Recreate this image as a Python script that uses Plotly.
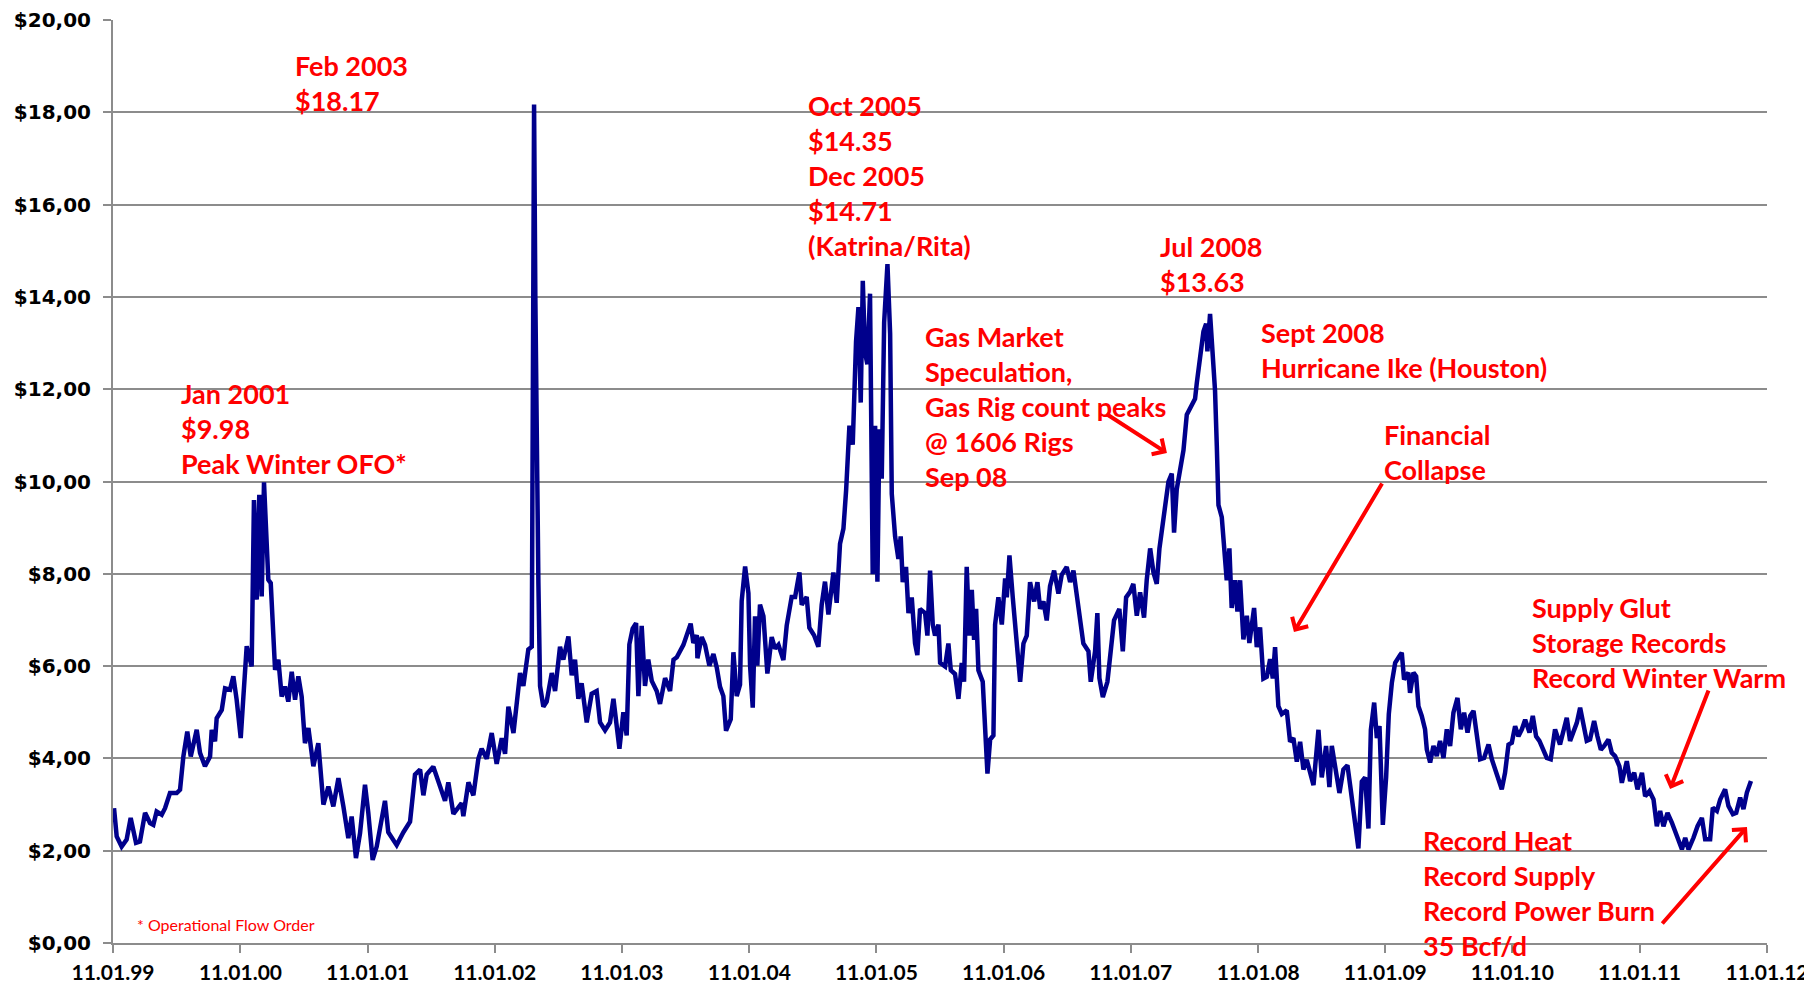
import numpy as np
import pandas as pd
import plotly.graph_objects as go

# years after 11.01.99 and daily gas price in $/MMBtu
years = [
    0.008, 0.029, 0.068, 0.107, 0.139, 0.181, 0.212, 0.252, 0.291, 0.317, 0.343, 0.383, 0.409, 0.448,
    0.501, 0.527, 0.553, 0.584, 0.611, 0.658, 0.684, 0.723, 0.763, 0.776, 0.802, 0.815, 0.855, 0.881,
    0.920, 0.946, 0.972, 1.004, 1.025, 1.051, 1.090, 1.108, 1.130, 1.150, 1.169, 1.187, 1.200, 1.221,
    1.240, 1.255, 1.274, 1.300, 1.326, 1.352, 1.378, 1.405, 1.431, 1.457, 1.483, 1.509, 1.536, 1.575,
    1.614, 1.654, 1.693, 1.732, 1.772, 1.811, 1.850, 1.876, 1.910, 1.942, 1.981, 2.007, 2.041, 2.073,
    2.138, 2.164, 2.230, 2.283, 2.335, 2.374, 2.414, 2.440, 2.466, 2.518, 2.558, 2.610, 2.636, 2.676,
    2.741, 2.754, 2.794, 2.833, 2.872, 2.898, 2.938, 2.977, 3.016, 3.056, 3.082, 3.108, 3.148, 3.174,
    3.200, 3.226, 3.265, 3.292, 3.310, 3.320, 3.331, 3.344, 3.357, 3.383, 3.409, 3.449, 3.475, 3.514,
    3.540, 3.580, 3.606, 3.632, 3.658, 3.684, 3.724, 3.763, 3.802, 3.829, 3.868, 3.907, 3.934, 3.965,
    3.981, 4.012, 4.038, 4.059, 4.085, 4.112, 4.130, 4.156, 4.182, 4.208, 4.235, 4.274, 4.300, 4.340,
    4.379, 4.406, 4.432, 4.484, 4.510, 4.541, 4.562, 4.589, 4.594, 4.628, 4.654, 4.688, 4.720, 4.746,
    4.772, 4.798, 4.819, 4.856, 4.877, 4.903, 4.929, 4.942, 4.969, 4.995, 5.008, 5.029, 5.047, 5.065,
    5.086, 5.113, 5.144, 5.178, 5.204, 5.231, 5.270, 5.296, 5.335, 5.362, 5.396, 5.414, 5.453, 5.474,
    5.511, 5.545, 5.571, 5.597, 5.624, 5.663, 5.689, 5.715, 5.742, 5.763, 5.789, 5.815, 5.841, 5.860,
    5.878, 5.894, 5.912, 5.930, 5.951, 5.972, 5.991, 6.009, 6.025, 6.043, 6.062, 6.088, 6.109, 6.122,
    6.148, 6.174, 6.192, 6.208, 6.234, 6.253, 6.279, 6.305, 6.323, 6.344, 6.384, 6.402, 6.423, 6.444,
    6.462, 6.489, 6.502, 6.541, 6.567, 6.586, 6.619, 6.646, 6.672, 6.690, 6.711, 6.732, 6.751, 6.769,
    6.785, 6.803, 6.837, 6.856, 6.874, 6.895, 6.921, 6.934, 6.960, 6.987, 7.013, 7.026, 7.047, 7.073,
    7.099, 7.131, 7.157, 7.183, 7.209, 7.241, 7.267, 7.288, 7.314, 7.340, 7.366, 7.398, 7.432, 7.458,
    7.497, 7.524, 7.550, 7.576, 7.602, 7.628, 7.668, 7.686, 7.720, 7.738, 7.754, 7.781, 7.817, 7.843,
    7.869, 7.911, 7.938, 7.964, 7.995, 8.021, 8.048, 8.074, 8.105, 8.126, 8.153, 8.179, 8.205, 8.226,
    8.244, 8.270, 8.297, 8.323, 8.341, 8.362, 8.388, 8.415, 8.441, 8.472, 8.506, 8.520, 8.546, 8.572,
    8.593, 8.603, 8.624, 8.645, 8.663, 8.677, 8.690, 8.716, 8.734, 8.755, 8.776, 8.794, 8.821, 8.839,
    8.860, 8.886, 8.913, 8.933, 8.970, 8.991, 9.017, 9.043, 9.070, 9.096, 9.117, 9.135, 9.161, 9.188,
    9.227, 9.253, 9.279, 9.306, 9.332, 9.358, 9.384, 9.410, 9.437, 9.476, 9.502, 9.536, 9.562, 9.581,
    9.607, 9.641, 9.672, 9.704, 9.725, 9.751, 9.772, 9.790, 9.817, 9.843, 9.869, 9.888, 9.914, 9.935,
    9.956, 9.982, 10.008, 10.029, 10.053, 10.079, 10.118, 10.131, 10.149, 10.183, 10.196, 10.223,
    10.244, 10.262, 10.288, 10.314, 10.328, 10.354, 10.380, 10.406, 10.432, 10.459, 10.485, 10.511,
    10.537, 10.569, 10.595, 10.621, 10.648, 10.669, 10.695, 10.721, 10.747, 10.778, 10.813, 10.839,
    10.865, 10.891, 10.917, 10.943, 10.970, 10.996, 11.022, 11.048, 11.075, 11.101, 11.135, 11.161,
    11.187, 11.213, 11.245, 11.271, 11.302, 11.336, 11.375, 11.402, 11.428, 11.454, 11.480, 11.507,
    11.533, 11.559, 11.585, 11.611, 11.643, 11.669, 11.696, 11.722, 11.756, 11.782, 11.808, 11.842,
    11.861, 11.900, 11.926, 11.958, 11.984, 12.019, 12.044, 12.078, 12.110, 12.136, 12.162, 12.188,
    12.220, 12.254, 12.293, 12.333, 12.359, 12.385, 12.424, 12.456, 12.490, 12.516, 12.555, 12.576,
    12.608, 12.634, 12.673, 12.699, 12.734, 12.760, 12.791, 12.817, 12.844, 12.876,
]
price = [
    2.92, 2.31, 2.09, 2.24, 2.71, 2.17, 2.20, 2.82, 2.60, 2.56, 2.85, 2.78, 2.92, 3.25,
    3.25, 3.32, 4.04, 4.58, 4.04, 4.62, 4.12, 3.83, 4.04, 4.62, 4.37, 4.87, 5.05, 5.52,
    5.49, 5.78, 5.27, 4.44, 5.34, 6.43, 5.99, 9.60, 7.44, 9.71, 7.51, 9.98, 9.17, 7.87,
    7.80, 6.93, 5.92, 6.14, 5.34, 5.56, 5.23, 5.88, 5.27, 5.78, 5.34, 4.33, 4.66, 3.83,
    4.33, 3.00, 3.39, 2.96, 3.57, 2.96, 2.27, 2.74, 1.84, 2.38, 3.43, 2.82, 1.80, 2.09,
    3.08, 2.40, 2.12, 2.40, 2.63, 3.65, 3.76, 3.20, 3.65, 3.82, 3.48, 3.08, 3.48, 2.80,
    3.03, 2.75, 3.48, 3.20, 3.99, 4.21, 3.99, 4.55, 3.88, 4.44, 4.10, 5.12, 4.55, 5.12,
    5.85, 5.57, 6.36, 6.42, 18.17, 14.00, 9.50, 7.80, 5.57, 5.12, 5.23, 5.85, 5.46, 6.42,
    6.14, 6.64, 5.80, 6.14, 5.29, 5.63, 4.78, 5.40, 5.46, 4.78, 4.61, 4.78, 5.29, 4.61,
    4.21, 5.00, 4.50, 6.47, 6.81, 6.93, 5.35, 6.87, 5.57, 6.14, 5.68, 5.46, 5.18, 5.74,
    5.46, 6.14, 6.19, 6.46, 6.67, 6.92, 6.50, 6.67, 6.17, 6.63, 6.46, 6.01, 6.26, 5.97,
    5.55, 5.35, 4.60, 4.85, 6.30, 5.35, 5.60, 7.41, 8.16, 7.58, 6.01, 5.10, 7.08, 6.01,
    7.33, 7.08, 5.84, 6.63, 6.38, 6.46, 6.13, 6.88, 7.50, 7.50, 8.03, 7.33, 7.50, 6.83,
    6.67, 6.42, 7.33, 7.83, 7.12, 8.03, 7.37, 8.65, 8.98, 9.81, 11.21, 10.80, 13.03, 13.78,
    11.71, 14.35, 12.79, 12.54, 14.07, 7.99, 11.21, 7.83, 11.13, 10.06, 13.45, 14.71, 13.20, 9.73,
    8.81, 8.32, 8.81, 7.82, 8.15, 7.15, 7.49, 6.49, 6.24, 7.24, 7.15, 6.66, 8.07, 6.90,
    6.66, 6.90, 6.07, 5.99, 6.49, 5.91, 5.83, 5.29, 6.07, 5.66, 8.15, 6.66, 7.65, 6.57,
    7.24, 5.91, 5.66, 4.41, 3.67, 4.41, 4.50, 6.90, 7.49, 6.90, 7.90, 7.49, 8.40, 7.49,
    6.66, 5.66, 6.49, 6.66, 7.82, 7.40, 7.82, 7.24, 7.40, 6.99, 7.73, 8.07, 7.57, 7.98,
    8.15, 7.82, 8.07, 7.57, 7.15, 6.49, 6.32, 5.66, 6.32, 7.15, 5.74, 5.33, 5.66, 6.32,
    6.99, 7.24, 6.32, 7.49, 7.61, 7.78, 7.09, 7.60, 7.05, 7.86, 8.55, 8.03, 7.78, 8.55,
    8.89, 9.40, 10.00, 10.17, 8.89, 9.83, 10.26, 10.68, 11.45, 11.62, 11.79, 12.14, 12.65, 13.25,
    13.42, 12.82, 13.63, 12.82, 11.97, 10.77, 9.49, 9.23, 8.55, 7.86, 8.55, 7.26, 7.86, 7.18,
    7.86, 6.58, 7.09, 6.50, 7.26, 6.41, 6.84, 5.73, 5.77, 6.15, 5.73, 6.41, 5.13, 4.96,
    5.04, 4.36, 4.44, 3.93, 4.36, 3.76, 3.97, 3.68, 3.42, 4.62, 3.59, 4.27, 3.38, 4.27,
    3.85, 3.25, 3.76, 3.85, 3.42, 2.91, 2.56, 2.05, 3.50, 3.59, 2.48, 4.62, 5.21, 4.44,
    4.70, 2.56, 3.59, 4.96, 5.64, 6.07, 6.24, 6.29, 5.71, 5.86, 5.42, 5.86,
    5.78, 5.13, 4.92, 4.63, 4.19, 3.91, 4.27, 4.05, 4.38, 4.01, 4.63, 4.27,
    4.99, 5.31, 4.63, 4.99, 4.56, 4.92, 5.03, 4.48, 3.98, 4.01, 4.30, 3.98,
    3.76, 3.55, 3.33, 3.69, 4.30, 4.34, 4.70, 4.48, 4.63, 4.84, 4.56, 4.92,
    4.48, 4.38, 4.16, 4.01, 3.98, 4.63, 4.30, 4.63, 4.88, 4.38, 4.56, 4.77,
    5.10, 4.70, 4.38, 4.41, 4.81, 4.48, 4.19, 4.27, 4.41, 4.12, 4.05, 3.83,
    3.47, 3.94, 3.51, 3.69, 3.33, 3.69, 3.18, 3.29, 3.11, 2.53, 2.86, 2.53,
    2.82, 2.61, 2.32, 2.03, 2.28, 2.03, 2.28, 2.53, 2.71, 2.25, 2.25, 2.93,
    2.86, 3.11, 3.33, 2.97, 2.79, 2.82, 3.15, 2.90, 3.26, 3.51,
]

tick_dates = [f"{y}-11-01" for y in range(1999, 2013)]
tick_labels = [f"11.01.{y % 100:02d}" for y in range(1999, 2013)]

start = pd.Timestamp("1999-11-01")
dates = start + pd.to_timedelta(np.array(years) * 365.25, unit="D")

RED = "#FF0000"
GRID = "#8C8C8C"
note_font = dict(family="Lato", size=27, color=RED, weight="bold")

fig = go.Figure()
fig.add_trace(go.Scatter(
    x=dates, y=price, mode="lines",
    line=dict(color="#00008C", width=4.5),
    hoverinfo="x+y", showlegend=False,
))

# (text, x, y) in paper coordinates, left edge / vertical centre of the block
notes = [
    ("Jan 2001<br>$9.98<br>Peak Winter OFO*", 0.040, 0.557),
    ("Feb 2003<br>$18.17", 0.109, 0.932),
    ("Oct 2005<br>$14.35<br>Dec 2005<br>$14.71<br>(Katrina/Rita)", 0.419, 0.832),
    ("Gas Market<br>Speculation,<br>Gas Rig count peaks<br>@ 1606 Rigs<br>Sep 08", 0.490, 0.581),
    ("Jul 2008<br>$13.63", 0.632, 0.736),
    ("Sept 2008<br>Hurricane Ike (Houston)", 0.693, 0.643),
    ("Financial<br>Collapse", 0.767, 0.532),
    ("Supply Glut<br>Storage Records<br>Record Winter Warm", 0.857, 0.326),
    ("Record Heat<br>Record Supply<br>Record Power Burn<br>35 Bcf/d", 0.791, 0.054),
]
for text, x, y in notes:
    fig.add_annotation(
        text=text, x=x, y=y, xref="paper", yref="paper",
        xanchor="left", yanchor="middle", align="left",
        showarrow=False, font=note_font,
    )

fig.add_annotation(
    text="* Operational Flow Order", x=0.013, y=0.020, xref="paper", yref="paper",
    xanchor="left", yanchor="middle", showarrow=False,
    font=dict(family="Lato", size=16, color=RED),
)

# arrows: head position (paper) and tail offset in pixels
arrows = [
    (0.6372, 0.5309, -62, -40),
    (0.7140, 0.3369, 89, -150),
    (0.9414, 0.1668, 39, -100),
    (0.9879, 0.1257, -86, 98),
]
for x, y, ax, ay in arrows:
    fig.add_annotation(
        x=x, y=y, xref="paper", yref="paper", ax=ax, ay=ay,
        text="", showarrow=True, arrowhead=4, arrowsize=0.9,
        arrowwidth=4, arrowcolor=RED,
    )

# the page adds an 8px body margin, so the figure is 8px smaller each way
fig.update_layout(
    width=1804, height=979,
    margin=dict(l=105, r=45, t=12, b=44),
    paper_bgcolor="white", plot_bgcolor="white",
    separators=",.",
    showlegend=False,
)
fig.update_xaxes(
    type="date", range=["1999-11-01", "2012-11-01"],
    tickvals=tick_dates, ticktext=tick_labels, automargin=False,
    showgrid=False, showline=True, linecolor=GRID, linewidth=2,
    ticks="outside", ticklen=8, tickwidth=2, tickcolor=GRID,
    tickfont=dict(family="Lato", size=21, color="black", weight="bold"),
    ticklabelstandoff=2,
)
fig.update_yaxes(
    range=[0, 20], dtick=2, tickprefix="$", tickformat=".2f", automargin=False,
    showgrid=True, gridcolor=GRID, gridwidth=1.5,
    showline=True, linecolor=GRID, linewidth=2,
    ticks="outside", ticklen=8, tickwidth=2, tickcolor=GRID,
    tickfont=dict(family="DejaVu Sans", size=20, color="black", weight="bold"),
    ticklabelstandoff=8, zeroline=False,
)

fig.write_html("out.html")
